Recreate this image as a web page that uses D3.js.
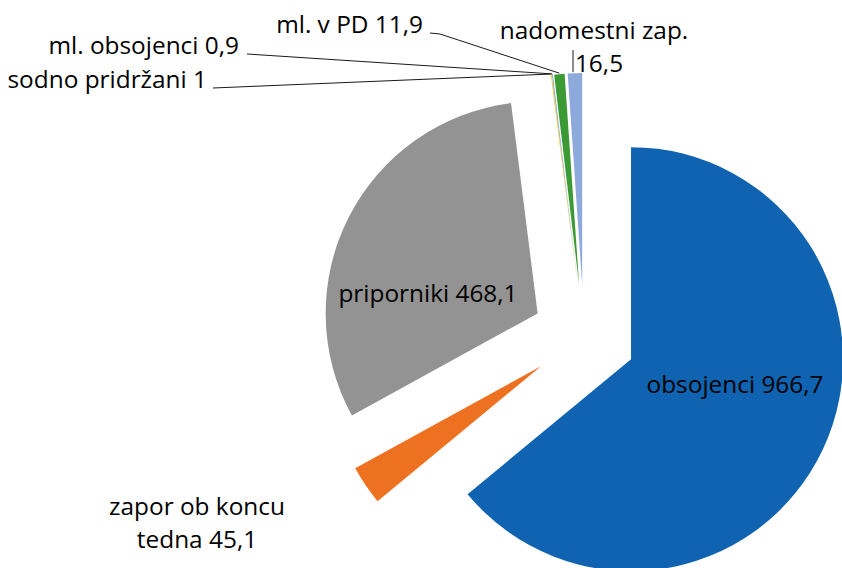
<!DOCTYPE html>
<html lang="sl">
<head>
  <meta charset="utf-8">
  <title>Zaprte osebe</title>
  <script src="https://d3js.org/d3.v7.min.js"></script>
  <style>
    body { margin: 0; background: #fff; }
    .oznaka { font: 24.4px "Open Sans", Lato, sans-serif; fill: #000; }
    .vodilo { fill: none; stroke: #1a1a1a; stroke-width: 1; }
  </style>
</head>
<body>
  <div id="chart"></div>

  <script>
    "use strict"

    // podatki
    var kategorije = ["obsojenci", "zapor ob koncu tedna", "priporniki", "sodno pridržani",
                      "ml. obsojenci", "ml. v PD", "nadomestni zap."];
    var vrednosti = [966.7, 45.1, 468.1, 1, 0.9, 11.9, 16.5];
    var barve = ["#1063b1", "#ee7121", "#939393", "#ffc000", "#5b9bd5", "#3c9a35", "#8eaadc"];

    var sirina = 842, visina = 568;
    var cx = 584, cy = 337,   // sredina torte
        polmer = 212,
        odmik = 52;           // koliko je kos izvlecen

    // kje stojijo oznake (vrstice, x vsake vrstice, y prve vrstice, poravnava)
    var postavitev = [
      { vrstice: ["obsojenci 966,7"], x: [735], y: 393, sidro: "middle" },
      { vrstice: ["zapor ob koncu", "tedna 45,1"], x: [197, 197], y: 515, sidro: "middle" },
      { vrstice: ["priporniki 468,1"], x: [428], y: 302, sidro: "middle" },
      { vrstice: ["sodno pridržani 1"], x: [207], y: 88, sidro: "end", vodilo: [[213, 88]] },
      { vrstice: ["ml. obsojenci 0,9"], x: [239], y: 54, sidro: "end", vodilo: [[247, 54]] },
      { vrstice: ["ml. v PD 11,9"], x: [423], y: 33, sidro: "end", vodilo: [[430, 33], [440, 34]] },
      { vrstice: ["nadomestni zap.", "16,5"], x: [594, 599], y: 39, sidro: "middle", vodilo: [[573, 50]], navpicno: true }
    ];

    var svg = d3.select("#chart").append("svg")
        .attr("width", sirina)
        .attr("height", visina);

    var torta = d3.pie().sort(null).startAngle(0).value(function(d) { return d; });
    var kosi = torta(vrednosti);

    var lok = d3.arc().innerRadius(0).outerRadius(polmer);

    function smer(d) {
      var a = (d.startAngle + d.endAngle) / 2;
      return [Math.sin(a), -Math.cos(a)];
    }

    var g = svg.append("g").attr("transform", "translate(" + cx + "," + cy + ")");

    g.selectAll("path")
      .data(kosi)
      .enter()
      .append("path")
        .attr("d", lok)
        .attr("fill", function(d, i) { return barve[i]; })
        .attr("transform", function(d) {
          var s = smer(d);
          return "translate(" + (s[0] * odmik) + "," + (s[1] * odmik) + ")";
        });

    // vodilne crte do malih kosov
    kosi.forEach(function(d, i) {
      var p = postavitev[i];
      if (!p.vodilo) return;
      var s = smer(d);
      var konec = [cx + s[0] * (odmik + polmer + 1), cy + s[1] * (odmik + polmer + 1)];
      var tocke = p.vodilo.slice();
      if (p.navpicno) konec = [tocke[0][0], konec[1]];
      tocke.push(konec);
      svg.append("path")
        .attr("class", "vodilo")
        .attr("d", d3.line()(tocke));
    });

    // oznake
    postavitev.forEach(function(p) {
      var t = svg.append("text")
        .attr("class", "oznaka")
        .attr("text-anchor", p.sidro)
        .attr("y", p.y);
      p.vrstice.forEach(function(v, j) {
        t.append("tspan")
          .attr("x", p.x[j])
          .attr("dy", j === 0 ? 0 : 33)
          .text(v);
      });
    });
  </script>
</body>
</html>
